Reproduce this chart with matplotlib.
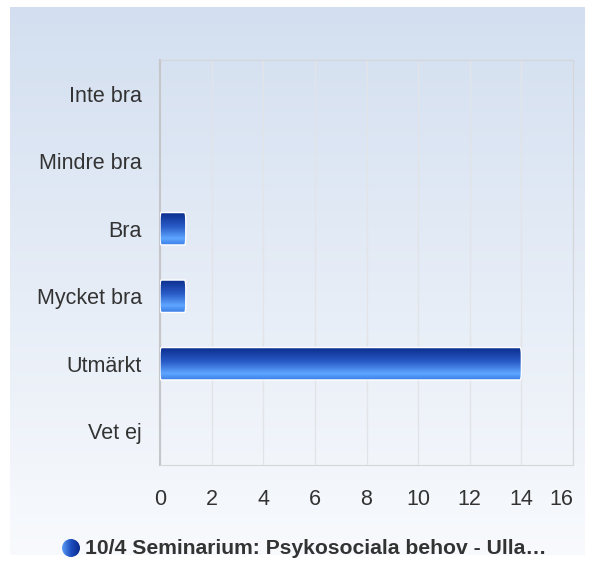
import matplotlib.pyplot as plt
import numpy as np
from matplotlib.patches import FancyBboxPatch, Circle
from matplotlib.colors import LinearSegmentedColormap

plt.rcParams['font.family'] = ['Liberation Sans', 'DejaVu Sans']

categories = ["Inte bra", "Mindre bra", "Bra", "Mycket bra", "Utmärkt", "Vet ej"]
values = [0, 0, 1, 1, 14, 0]
xticks = [0, 2, 4, 6, 8, 10, 12, 14, 16]
series_name = "10/4 Seminarium: Psykosociala behov - Ulla…"

fig = plt.figure(figsize=(5.95, 5.61), dpi=100)

# background panel with vertical gradient
bg = fig.add_axes([0, 0, 1, 1])
bg.set_xlim(0, 595)
bg.set_ylim(561, 0)
bg.axis('off')
bg_cmap = LinearSegmentedColormap.from_list('bg', ['#d3dff0', '#f8fafd'])
grad = np.linspace(0, 1, 256).reshape(-1, 1)
bg.imshow(grad, cmap=bg_cmap, extent=[10, 585, 555, 7], aspect='auto')

ax = fig.add_axes([160 / 595, 96 / 561, 413 / 595, 405 / 561])
ax.patch.set_alpha(0)
y = np.arange(len(categories))
bars = ax.barh(y, values, height=0.48, color='none')
ax.set_xlim(0, 16)
ax.set_ylim(len(categories) - 0.5, -0.5)
ax.set_yticks(y)
ax.set_yticklabels(categories, fontsize=15.5, color='#333333')
ax.set_xticks(xticks)
ax.set_xticklabels([str(t) for t in xticks], fontsize=15.5, color='#333333')
ax.tick_params(axis='y', length=0, pad=13)
ax.tick_params(axis='x', length=0, pad=17)
ax.get_xticklabels()[-1].set_horizontalalignment('right')
ax.get_xticklabels()[-1].set_x(16)
ax.grid(axis='x', color='#e2e4e8', linewidth=1)
ax.set_axisbelow(True)
for s in ['top', 'right', 'bottom']:
    ax.spines[s].set_color('#d4d6da')
ax.spines['left'].set_color('#c4c6ca')
ax.spines['left'].set_linewidth(1.5)

bar_cmap = LinearSegmentedColormap.from_list(
    'bar', [(0, '#0a2b8a'), (0.45, '#2a5cc8'), (0.8, '#5ea6ff'), (1, '#3b7ee6')])
for b in bars:
    w = b.get_width()
    if w <= 0:
        continue
    x0, y0, h = b.get_x(), b.get_y(), b.get_height()
    clip = FancyBboxPatch((x0, y0), w, h, boxstyle="round,pad=0,rounding_size=0.05",
                          mutation_aspect=2.6, transform=ax.transData,
                          facecolor='none', edgecolor='white', linewidth=1.0, zorder=4)
    ax.add_patch(clip)
    im = ax.imshow(grad, cmap=bar_cmap, extent=[x0, x0 + w, y0 + h, y0],
                   aspect='auto', zorder=3)
    im.set_clip_path(clip)
ax.set_xlim(0, 16)
ax.set_ylim(len(categories) - 0.5, -0.5)

# legend
circ_cmap = LinearSegmentedColormap.from_list('circ', ['#5a9cf5', '#1d4fc0', '#0a2b8a'])
hgrad = np.linspace(0, 1, 64).reshape(1, -1)
c = Circle((71, 548), 9, transform=bg.transData, facecolor='none', edgecolor='none')
bg.add_patch(c)
cim = bg.imshow(hgrad, cmap=circ_cmap, extent=[62, 80, 557, 539], aspect='auto')
cim.set_clip_path(c)
bg.text(85, 549, series_name, fontsize=15.2, fontweight='bold', color='#333333',
        ha='left', va='center')

fig.savefig('out.png', dpi=100)
